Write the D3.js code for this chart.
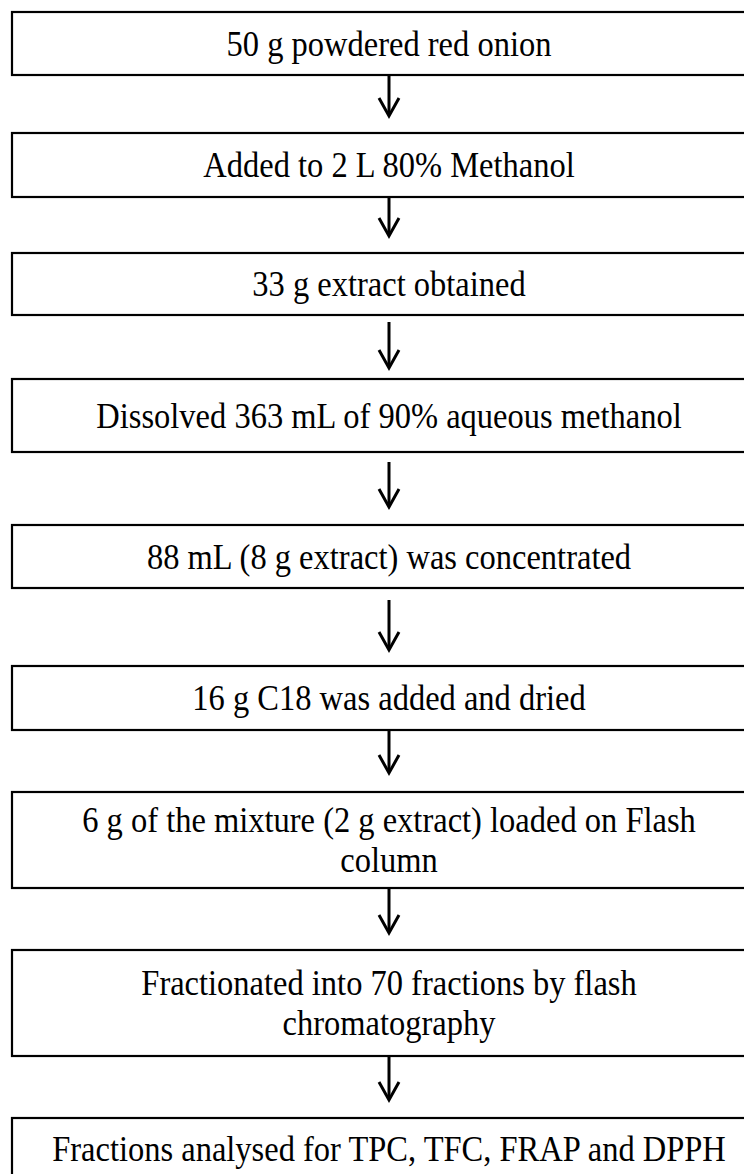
<!DOCTYPE html>
<html>
<head>
<meta charset="utf-8">
<script src="https://cdn.jsdelivr.net/npm/d3@7"></script>
<style>
  body { margin: 0; background: #fff; }
  text { font-family: "Liberation Serif", "Times New Roman", serif; fill: #000; }
</style>
</head>
<body>
<script>
// the steps of the procedure, one entry per box (lines of each box)
var steps = [
  ["50 g powdered red onion"],
  ["Added to 2 L 80% Methanol"],
  ["33 g extract obtained"],
  ["Dissolved 363 mL of 90% aqueous methanol"],
  ["88 mL (8 g extract) was concentrated"],
  ["16 g C18 was added and dried"],
  ["6 g of the mixture (2 g extract) loaded on Flash", "column"],
  ["Fractionated into 70 fractions by flash", "chromatography"],
  ["Fractions analysed for TPC, TFC, FRAP and DPPH"]
];

// layout, kept apart from the data: box top / bottom, arrow start / tip
var boxTop    = [12, 133, 253, 379, 525, 666, 792, 950, 1118];
var boxBottom = [75, 197, 315, 452, 588, 730, 888, 1056, 1190];
var arrowFrom = [75, 197, 322, 462, 600, 730, 888, 1056];
var arrowTo   = [116, 236, 368, 507, 650, 773, 933, 1100];

var width = 744, height = 1174;
var left = 12, right = 766, cx = 389;

var svg = d3.select("body").append("svg")
    .attr("width", width)
    .attr("height", height);

// boxes
var box = svg.selectAll(".step")
    .data(steps)
  .enter().append("g")
    .attr("class", "step");

box.append("rect")
    .attr("x", left)
    .attr("y", function(d, i) { return boxTop[i]; })
    .attr("width", right - left)
    .attr("height", function(d, i) { return boxBottom[i] - boxTop[i]; })
    .attr("fill", "none")
    .attr("stroke", "#000")
    .attr("stroke-width", 2.2);

box.each(function(lines, i) {
  var g = d3.select(this);
  var h = boxBottom[i] - boxTop[i];
  var mid = boxTop[i] + (i == steps.length - 1 ? 31 : h / 2);
  var lh = 40;
  lines.forEach(function(t, j) {
    var y = mid + (j - (lines.length - 1) / 2) * lh;
    g.append("text")
        .attr("transform", "translate(" + cx + "," + y + ") scale(1,1.1)")
        .attr("text-anchor", "middle")
        .attr("dy", "0.34em")
        .style("font-size", "32.5px")
        .text(t);
  });
});

// arrows
var arrows = svg.selectAll(".arrow")
    .data(arrowFrom)
  .enter().append("g")
    .attr("class", "arrow");

arrows.append("line")
    .attr("x1", cx).attr("x2", cx)
    .attr("y1", function(d) { return d; })
    .attr("y2", function(d, i) { return arrowTo[i] - 1; })
    .attr("stroke", "#000")
    .attr("stroke-width", 3);

arrows.append("path")
    .attr("d", function(d, i) {
      var t = arrowTo[i];
      return "M" + (cx - 10) + "," + (t - 18) + "L" + cx + "," + t + "L" + (cx + 10) + "," + (t - 18);
    })
    .attr("fill", "none")
    .attr("stroke", "#000")
    .attr("stroke-width", 3);
</script>
</body>
</html>
